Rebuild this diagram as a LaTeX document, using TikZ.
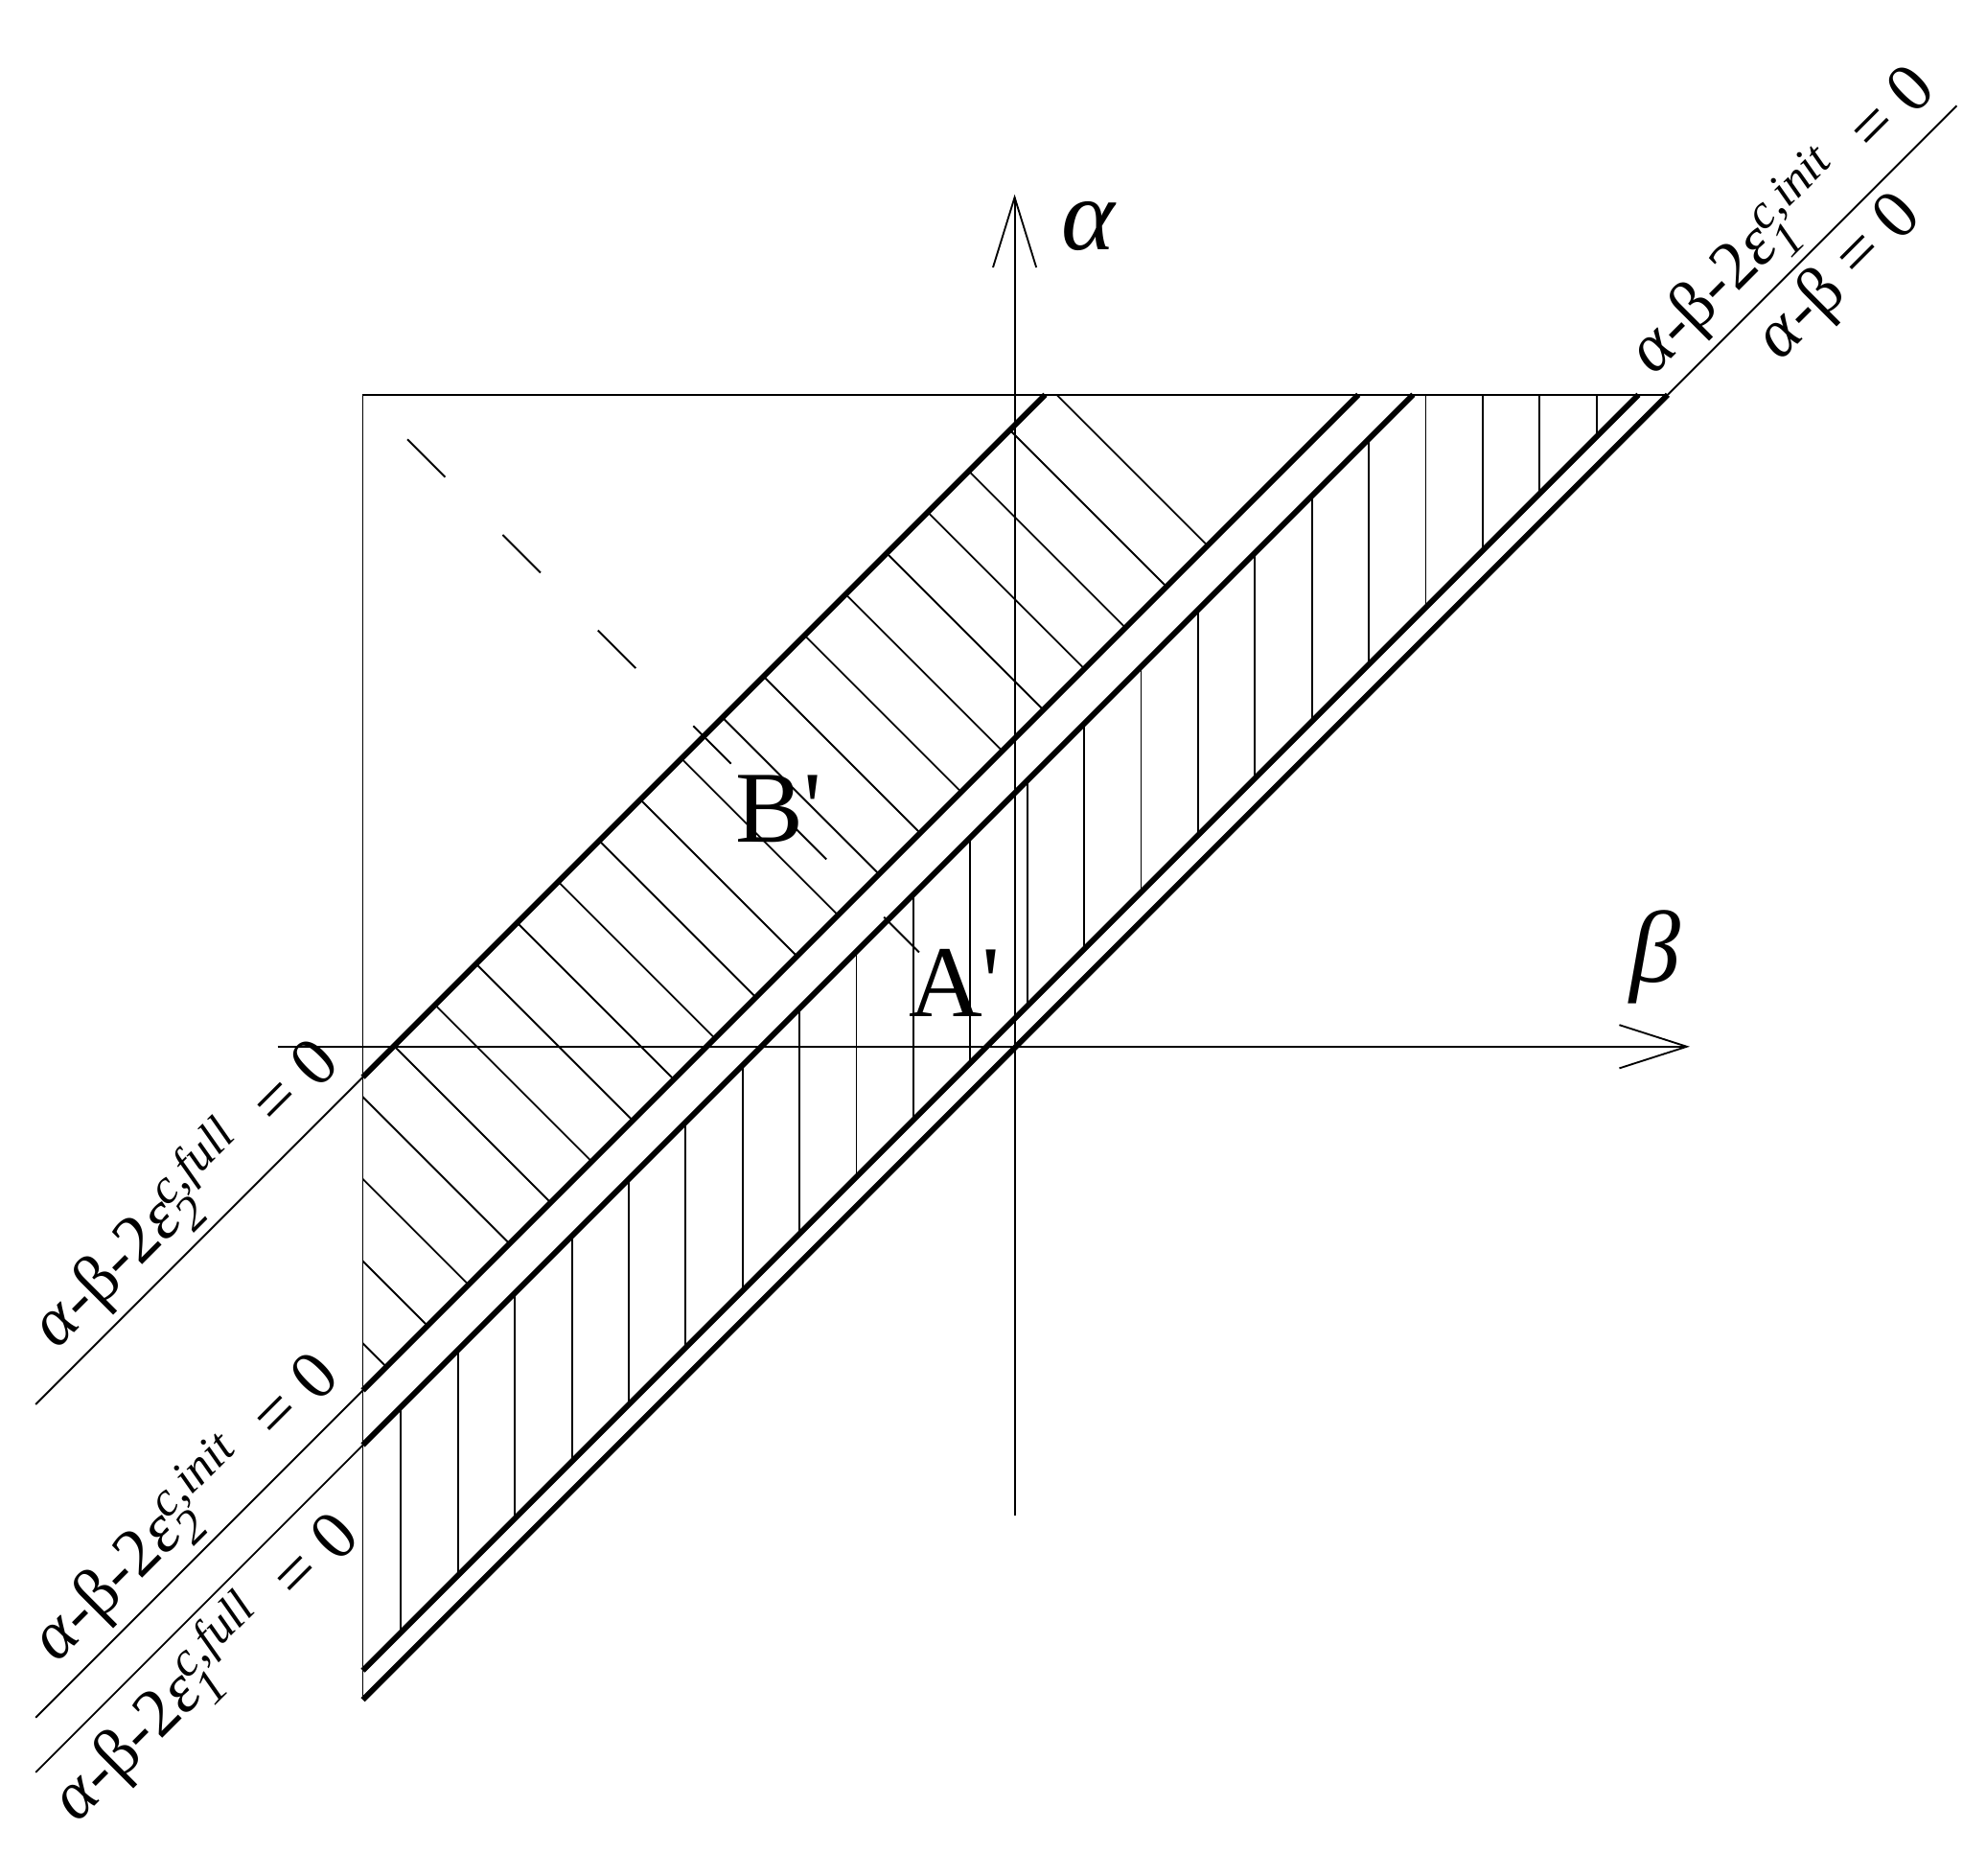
\documentclass[tikz,border=0pt]{standalone}
\usepackage{fontspec}
\setmainfont[Ligatures=NoCommon]{Liberation Serif}
\usetikzlibrary{calc}
\newcommand{\myss}[2]{\rlap{\raisebox{-0.45ex}{\fontsize{19}{21}\selectfont\itshape #2}}\raisebox{0.75ex}{\fontsize{19}{21}\selectfont\itshape #1}}
\begin{document}
\begin{tikzpicture}[x=0.5pt,y=-0.5pt,
  thin/.style={line width=0.7pt},
  thk/.style={line width=2.2pt},
  lab/.style={rotate=45,font=\fontsize{27}{30}\selectfont,inner sep=3pt},
  big/.style={font=\fontsize{40}{44}\selectfont}]
\useasboundingbox (0,0) rectangle (1560,1473);
% square
\draw[thin] (285,1335) -- (285,310) -- (1310,310);
% axes
\coordinate (ab) at (797,1190); \coordinate (at) at (797,155);
\coordinate (bl) at (218,822); \coordinate (br) at (1325,822);
\draw[thin] (ab) -- (at);
\draw[thin] (780,210) -- (at) -- (814,210);
\draw[thin] (bl) -- (br);
\draw[thin] (1272,805) -- (br) -- (1272,839);
\node[big] (alab) at (855,178) {\itshape α};
\node[big] (blab) at (1300,752) {\itshape β};
% hatching diagonal
\begin{scope}
\clip (285,846) -- (821,310) -- (1067,310) -- (285,1092) -- cycle;
\foreach \n in {0,...,21} {
  \pgfmathsetmacro\d{-520+64.5*\n}
  \draw[thin] (200,200+\d) -- (1400,1400+\d);
}
\end{scope}
% hatching vertical
\begin{scope}
\clip (285,1135) -- (1110,310) -- (1287,310) -- (285,1312) -- cycle;
\foreach \n in {0,...,22} {
  \pgfmathsetmacro\xx{315+44.72*\n}
  \draw[thin] (\xx,300) -- (\xx,1400);
}
\end{scope}
% thick lines
\draw[thk] (285,846) -- (821,310);
\draw[thk] (285,1092) -- (1067,310);
\draw[thk] (285,1135) -- (1110,310);
\draw[thk] (285,1312) -- (1287,310);
\draw[thk] (285,1335) -- (1310,310);
% thin extensions
\coordinate (e1a) at (28,1103); \coordinate (e1b) at (285,846);
\coordinate (e2a) at (28,1349); \coordinate (e2b) at (285,1092);
\coordinate (e3a) at (28,1392); \coordinate (e3b) at (285,1135);
\coordinate (e0a) at (1310,310); \coordinate (e0b) at (1537,83);
\draw[thin] (e1a) -- (e1b);
\draw[thin] (e2a) -- (e2b);
\draw[thin] (e3a) -- (e3b);
\draw[thin] (e0a) -- (e0b);
% dashed line
\draw[thin,dash pattern=on 21pt off 32pt] (320,345) -- (722,748);
% labels
\node[big] (Bp) at (612,635) {B\textquotesingle};
\node[big] (Ap) at (750,772) {A\textquotesingle};
\node[lab,anchor=south] (l1) at ($(e1a)!0.55!(e1b)$) {\textit{α}-β-2\textit{ε}\myss{c,full}{2}~ = 0};
\node[lab,anchor=south] (l2) at ($(e2a)!0.55!(e2b)$) {\textit{α}-β-2\textit{ε}\myss{c,init}{2}~ = 0};
\node[lab,anchor=north] (l3) at ($(e3a)!0.42!(e3b)$) {\textit{α}-β-2\textit{ε}\myss{c,full}{1}~ = 0};
\node[lab,anchor=south] (l4) at ($(e0a)!0.5!(e0b)$) {\textit{α}-β-2\textit{ε}\myss{c,init}{1}~ = 0};
\node[lab,anchor=north] (l5) at ($(e0a)!0.5!(e0b)$) {\textit{α}-β = 0};
\end{tikzpicture}
\end{document}
